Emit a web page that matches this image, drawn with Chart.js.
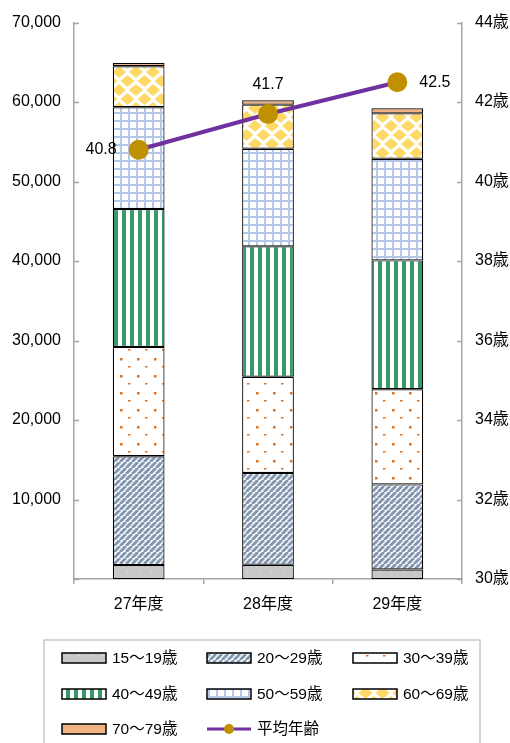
<!DOCTYPE html>
<html lang="ja">
<head>
<meta charset="utf-8">
<title>年齢別人数と平均年齢</title>
<script src="https://cdn.jsdelivr.net/npm/chart.js@4.4.1/dist/chart.umd.min.js"></script>
<style>
    html, body { margin: 0; padding: 0; background: #fff; }
    .chart-wrap { position: relative; width: 510px; height: 743px; }
</style>
</head>
<body>
<div class="chart-wrap"><canvas id="ageChart"></canvas></div>
<script>
/* ==================================================
   DATA
================================================== */
const categories = ['27年度', '28年度', '29年度'];

const ageGroups = ['15〜19歳', '20〜29歳', '30〜39歳', '40〜49歳', '50〜59歳', '60〜69歳', '70〜79歳'];
const age15to19 = [1750, 1800, 1200];
const age20to29 = [13700, 11550, 10700];
const age30to39 = [13750, 12100, 11980];
const age40to49 = [17350, 16400, 16200];
const age50to59 = [12800, 12280, 12800];
const age60to69 = [5150, 5550, 5700];
const age70to79 = [420, 550, 650];

const avgAgeLabel = '平均年齢';
const avgAge = [40.8, 41.7, 42.5];

const leftTicks = { min: 0, max: 70000, step: 10000 };
const rightTicks = { min: 30, max: 44, step: 2 };

const FONT = "'Liberation Sans', 'Noto Sans CJK JP', Arial, sans-serif";
const AXIS_GRAY = '#a6a6a6';

/* ==================================================
   FILL PATTERNS (Excel style)
================================================== */
function makePattern(w, h, paint) {
    const c = document.createElement('canvas');
    c.width = w; c.height = h;
    const ctx = c.getContext('2d');
    paint(ctx, w, h);
    return ctx.createPattern(c, 'repeat');
}

const patterns = {
    gray: makePattern(12, 12, (ctx, w, h) => {
        ctx.fillStyle = '#c8c8c8'; ctx.fillRect(0, 0, w, h);
        ctx.fillStyle = '#d4d4d4'; ctx.fillRect(6, 6, 2, 2);
    }),
    diagonal: makePattern(6, 6, (ctx, w, h) => {
        ctx.fillStyle = '#fff'; ctx.fillRect(0, 0, w, h);
        ctx.strokeStyle = '#8497b0'; ctx.lineWidth = 3;
        ctx.beginPath();
        for (let k = -1; k <= 1; k++) {
            ctx.moveTo(k * w, h); ctx.lineTo(k * w + w, 0);
        }
        ctx.stroke();
    }),
    dots: makePattern(17, 17, (ctx, w, h) => {
        ctx.fillStyle = '#fff'; ctx.fillRect(0, 0, w, h);
        ctx.fillStyle = '#e0701c';
        ctx.fillRect(1, 1, 2.5, 2.5);
        ctx.fillRect(9, 9, 2.5, 1.5);
    }),
    vertical: makePattern(8, 8, (ctx, w, h) => {
        ctx.fillStyle = '#fff'; ctx.fillRect(0, 0, w, h);
        ctx.fillStyle = '#379b69'; ctx.fillRect(2, 0, 4, h);
    }),
    grid: makePattern(8, 8, (ctx, w, h) => {
        ctx.fillStyle = '#fff'; ctx.fillRect(0, 0, w, h);
        ctx.fillStyle = '#b4c7e7';
        ctx.fillRect(0, 0, 2, h);
        ctx.fillRect(0, 0, w, 2);
    }),
    diamonds: makePattern(17, 18, (ctx, w, h) => {
        ctx.fillStyle = '#fff'; ctx.fillRect(0, 0, w, h);
        ctx.fillStyle = '#ffd966';
        const diamond = (cx, cy) => {
            ctx.beginPath();
            ctx.moveTo(cx, cy - 6); ctx.lineTo(cx + 7, cy);
            ctx.lineTo(cx, cy + 6); ctx.lineTo(cx - 7, cy);
            ctx.closePath(); ctx.fill();
        };
        [[0, 0], [w, 0], [0, h], [w, h], [w / 2, h / 2]].forEach(p => diamond(p[0], p[1]));
    }),
    orange: makePattern(8, 4, (ctx, w, h) => {
        ctx.fillStyle = '#f4b183'; ctx.fillRect(0, 0, w, h);
        ctx.fillStyle = '#c9c48a'; ctx.fillRect(2, 1, 2, 1);
    })
};

const barSeries = [age15to19, age20to29, age30to39, age40to49, age50to59, age60to69, age70to79];
const barFills = [patterns.gray, patterns.diagonal, patterns.dots, patterns.vertical,
                  patterns.grid, patterns.diamonds, patterns.orange];

const datasets = barSeries.map((values, i) => ({
    type: 'bar',
    label: ageGroups[i],
    data: values,
    backgroundColor: barFills[i],
    borderColor: '#000',
    borderWidth: 1.2,
    borderSkipped: false,
    barPercentage: 0.4,
    categoryPercentage: 1,
    yAxisID: 'y',
    order: 2
}));

datasets.push({
    type: 'line',
    label: avgAgeLabel,
    data: avgAge,
    borderColor: '#7030a0',
    borderWidth: 4,
    pointBackgroundColor: '#bf9000',
    pointBorderColor: '#bf9000',
    pointRadius: 8,
    tension: 0,
    yAxisID: 'y1',
    order: 1
});

/* ==================================================
   PLUGINS
================================================== */

// Inward tick marks on both value axes
const inwardTicks = {
    id: 'inwardTicks',
    afterDraw(chart) {
        const ctx = chart.ctx;
        const area = chart.chartArea;
        ctx.save();
        ctx.strokeStyle = AXIS_GRAY;
        ctx.lineWidth = 1.5;
        ['y', 'y1'].forEach(id => {
            const scale = chart.scales[id];
            scale.ticks.forEach(t => {
                const py = Math.round(scale.getPixelForValue(t.value)) + 0.5;
                ctx.beginPath();
                if (id === 'y') { ctx.moveTo(area.left, py); ctx.lineTo(area.left + 5, py); }
                else { ctx.moveTo(area.right - 5, py); ctx.lineTo(area.right, py); }
                ctx.stroke();
            });
        });
        ctx.restore();
    }
};

// Value labels beside the average-age points
const pointLabels = {
    id: 'pointLabels',
    afterDatasetsDraw(chart) {
        const idx = chart.data.datasets.findIndex(d => d.type === 'line');
        const meta = chart.getDatasetMeta(idx);
        const ctx = chart.ctx;
        const place = [
            { dx: -22, dy: 0, align: 'right' },
            { dx: 0, dy: -29, align: 'center' },
            { dx: 22, dy: 0, align: 'left' }
        ];
        ctx.save();
        ctx.font = '16px ' + FONT;
        ctx.fillStyle = '#000';
        ctx.textBaseline = 'middle';
        meta.data.forEach((pt, i) => {
            const p = place[i] || place[1];
            ctx.textAlign = p.align;
            ctx.fillText(chart.data.datasets[idx].data[i].toFixed(1), pt.x + p.dx, pt.y + p.dy);
        });
        ctx.restore();
    }
};

// Boxed legend laid out in three columns under the chart
const boxLegend = {
    id: 'boxLegend',
    afterDraw(chart) {
        const ctx = chart.ctx;
        const box = { x: 44, y: 640, w: 436, h: 110 };
        const colX = [62, 207, 353];
        const rowY = [658, 694, 729];
        ctx.save();
        ctx.strokeStyle = '#c8c8c8';
        ctx.lineWidth = 1.5;
        ctx.strokeRect(box.x, box.y, box.w, box.h);

        ctx.font = '15.5px ' + FONT;
        ctx.textBaseline = 'middle';
        ctx.textAlign = 'left';
        chart.data.datasets.forEach((ds, i) => {
            const x = colX[i % 3];
            const y = rowY[Math.floor(i / 3)];
            if (ds.type === 'line') {
                ctx.strokeStyle = ds.borderColor;
                ctx.lineWidth = 3;
                ctx.beginPath(); ctx.moveTo(x, y); ctx.lineTo(x + 44, y); ctx.stroke();
                ctx.fillStyle = ds.pointBackgroundColor;
                ctx.beginPath(); ctx.arc(x + 22, y, 5, 0, Math.PI * 2); ctx.fill();
            } else {
                ctx.fillStyle = ds.backgroundColor;
                ctx.fillRect(x, y - 5, 44, 10);
                ctx.strokeStyle = '#000';
                ctx.lineWidth = 1.5;
                ctx.strokeRect(x, y - 5, 44, 10);
            }
            ctx.fillStyle = '#000';
            ctx.fillText(ds.label, x + 50, y + 1);
        });
        ctx.restore();
    }
};

/* ==================================================
   CHART
================================================== */
const initAgeChart = () => {
    const ctx = document.getElementById('ageChart');
    new Chart(ctx, {
        data: { labels: categories, datasets },
        options: {
            responsive: true,
            maintainAspectRatio: false,
            animation: false,
            layout: { padding: { top: 20, left: 0, right: 0, bottom: 0 } },
            plugins: { legend: { display: false }, tooltip: { enabled: false } },
            scales: {
                x: {
                    stacked: true,
                    offset: true,
                    grid: { offset: true, drawOnChartArea: false, drawTicks: true, tickLength: 5, color: AXIS_GRAY, lineWidth: 1.5 },
                    border: { display: true, color: AXIS_GRAY, width: 1.5 },
                    ticks: { color: '#000', font: { family: FONT, size: 16 }, padding: 11 },
                    afterFit: scale => { scale.height = 164; }
                },
                y: {
                    position: 'left',
                    stacked: true,
                    min: leftTicks.min,
                    max: leftTicks.max,
                    grid: { display: false, drawTicks: false },
                    border: { display: true, color: AXIS_GRAY, width: 1.5 },
                    ticks: {
                        stepSize: leftTicks.step,
                        color: '#000',
                        padding: 13,
                        font: { family: FONT, size: 16 },
                        callback: v => v === 0 ? '' : v.toLocaleString('en-US')
                    },
                    afterFit: scale => { scale.width = 74; }
                },
                y1: {
                    position: 'right',
                    stacked: false,
                    min: rightTicks.min,
                    max: rightTicks.max,
                    grid: { display: false, drawTicks: false },
                    border: { display: true, color: AXIS_GRAY, width: 1.5 },
                    ticks: {
                        stepSize: rightTicks.step,
                        color: '#000',
                        padding: 13,
                        font: { family: FONT, size: 16 },
                        callback: v => v + '歳'
                    },
                    afterFit: scale => { scale.width = 48; }
                }
            }
        },
        plugins: [inwardTicks, pointLabels, boxLegend]
    });
};

document.addEventListener('DOMContentLoaded', initAgeChart);
</script>
</body>
</html>
